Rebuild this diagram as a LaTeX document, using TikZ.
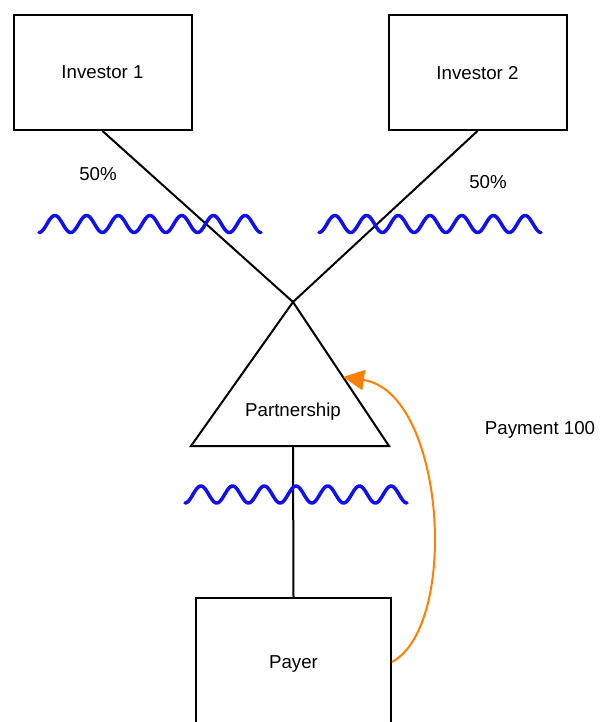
\documentclass[tikz,border=0pt]{standalone}
\usepackage{fontspec}
\setmainfont{Liberation Sans}
\usetikzlibrary{arrows.meta}
\definecolor{wavecol}{RGB}{16,16,245}
\definecolor{paycol}{RGB}{255,128,0}
\begin{document}
\begin{tikzpicture}[x=1pt,y=-1pt,
  every node/.style={font=\fontsize{18.7}{22}\selectfont, text depth=0pt},
  boxnode/.style={draw=black, line width=2pt, minimum width=178pt, minimum height=115pt, inner sep=0pt},
  link/.style={draw=black, line width=2pt},
  wavy/.style={draw=wavecol, line width=3.5pt, line cap=round, line join=round},
  payarrow/.style={draw=paycol, line width=2pt, -{Triangle[length=21pt,width=20pt]}}]
\useasboundingbox (0,0) rectangle (599,722);
\fill[white] (0,0) rectangle (599,722);

% boxes
\node[boxnode] (inv1) at (102.5,72.5) {Investor 1};
\node[boxnode] (inv2) at (477.5,72.5) {Investor 2};
\node[boxnode, minimum width=195pt, minimum height=128pt] (payer) at (293.5,662) {Payer};

% triangle
\coordinate (apex) at (293,302);
\coordinate (bl) at (191,446);
\coordinate (br) at (389,446);
\coordinate (bmid) at (293,446);
\coordinate (hit) at (343,377);
\draw[link, line join=miter] (apex) -- (bl) -- (br) -- cycle;
\node (part) at (293,409.5) {Partnership};

% connectors
\draw[link] (inv1.south) -- (apex);
\draw[link] (inv2.south) -- (apex);
\draw[link] (bmid) -- (payer.north);

% labels
\node (p1) at (98,174) {50\%};
\node (p2) at (488,182) {50\%};
\node (pay) at (540,428) {Payment 100};

% waves
\draw[wavy] plot[domain=0:222, samples=240] ({39+\x}, {224+8.5*cos(\x/222*7*360)});
\draw[wavy] plot[domain=0:222, samples=240] ({319+\x}, {224+8.5*cos(\x/222*7*360)});
\draw[wavy] plot[domain=0:222, samples=240] ({185+\x}, {494.5+8.5*cos(\x/222*7*360)});

% payment arrow
\draw[payarrow] (payer.east) .. controls (460,625) and (445,392) .. (hit);
\end{tikzpicture}
\end{document}
